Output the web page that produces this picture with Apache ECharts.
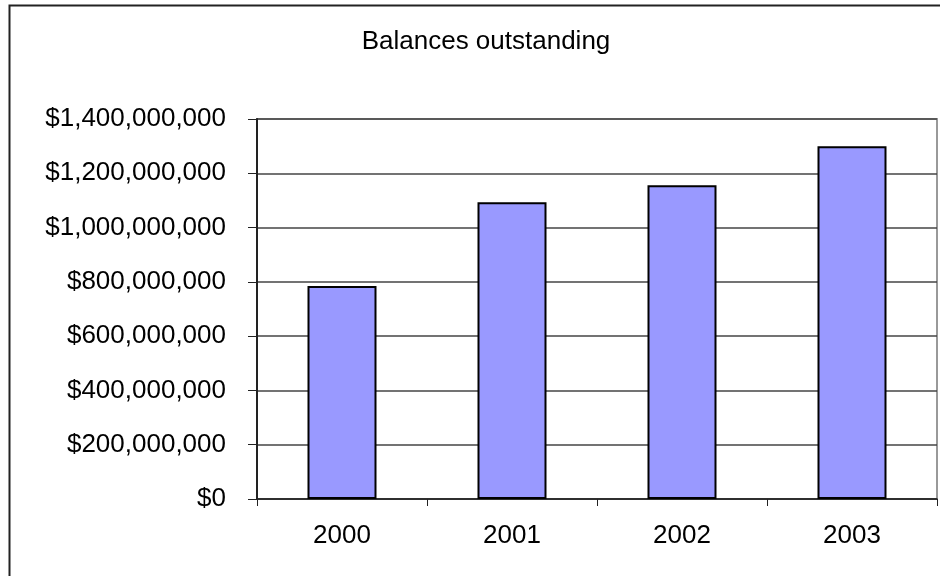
<!DOCTYPE html>
<html>
<head>
<meta charset="utf-8">
<script src="https://cdn.jsdelivr.net/npm/echarts@6/dist/echarts.min.js"></script>
<style>
  html, body { margin: 0; padding: 0; background: #fff; }
  #chart { width: 940px; height: 576px; }
</style>
</head>
<body>
<div id="chart"></div>
<script>
// data
var years = ['2000', '2001', '2002', '2003']
var balances = [785000000, 1093000000, 1156000000, 1300000000]
var yTicks = { min: 0, max: 1400000000, interval: 200000000 }

var font = '"Liberation Sans", Arial, sans-serif'

function money(v) {
  return '$' + String(v).replace(/\B(?=(\d{3})+(?!\d))/g, ',')
}

var chart = echarts.init(document.getElementById('chart'))
chart.setOption({
  backgroundColor: '#fff',
  animation: false,
  title: {
    text: 'Balances outstanding',
    left: 481,
    top: 24,
    textAlign: 'center',
    textStyle: { fontFamily: font, fontSize: 26, fontWeight: 'normal', color: '#000' }
  },
  graphic: [
    {
      type: 'rect',
      shape: { x: 9.5, y: 5.5, width: 1000, height: 1000 },
      style: { fill: 'none', stroke: '#222', lineWidth: 2 },
      silent: true
    }
  ],
  grid: {
    left: 257,
    right: 3,
    top: 119,
    bottom: 77,
    show: true,
    borderColor: '#999',
    borderWidth: 2,
    backgroundColor: '#fff'
  },
  xAxis: {
    type: 'category',
    data: years,
    axisLine: { lineStyle: { color: '#222', width: 1.5 } },
    axisTick: { show: true, length: 7, lineStyle: { color: '#222' } },
    axisLabel: { fontFamily: font, fontSize: 26, color: '#000', margin: 24 }
  },
  yAxis: {
    type: 'value',
    min: yTicks.min,
    max: yTicks.max,
    interval: yTicks.interval,
    axisLine: { show: true, lineStyle: { color: '#222', width: 2 } },
    axisTick: { show: true, length: 9, lineStyle: { color: '#222' } },
    axisLabel: { fontFamily: font, fontSize: 26, color: '#000', margin: 31, formatter: money },
    splitLine: { lineStyle: { color: '#444', width: 1.5 } }
  },
  series: [
    {
      name: 'Balances outstanding',
      type: 'bar',
      barWidth: 69,
      data: balances,
      itemStyle: { color: '#9999ff', borderColor: '#000', borderWidth: 2 }
    }
  ]
})
</script>
</body>
</html>
